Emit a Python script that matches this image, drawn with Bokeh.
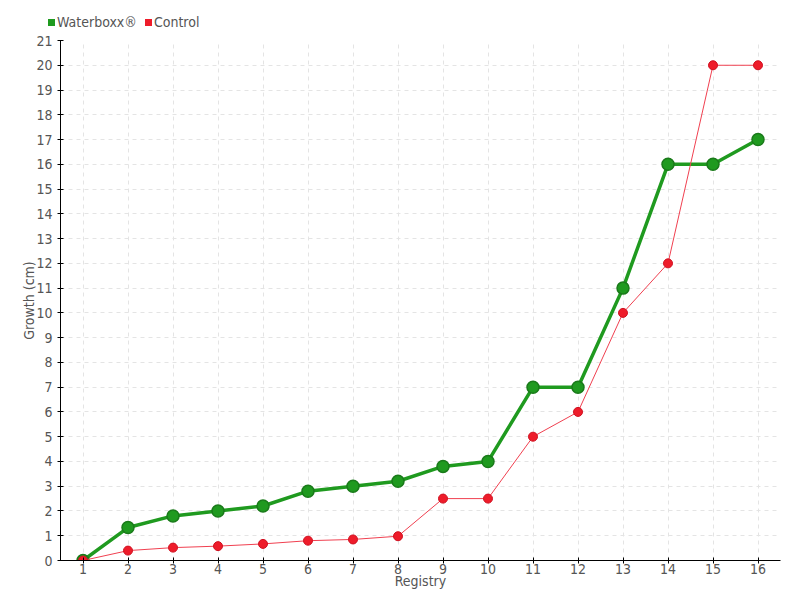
from bokeh.plotting import figure
from bokeh.layouts import column
from bokeh.models import Range1d, FixedTicker, ColumnDataSource, Div
from bokeh.embed import file_html
from bokeh.resources import INLINE

registry = list(range(1, 17))
waterboxx = [0, 1.33, 1.8, 2.0, 2.2, 2.8, 3.0, 3.2, 3.8, 4.0, 7, 7, 11, 16, 16, 17]
control = [0, 0.4, 0.52, 0.58, 0.67, 0.8, 0.85, 0.98, 2.5, 2.5, 5, 6, 10, 12, 20, 20]
y_ticks = list(range(0, 22))
series_names = ["Waterboxx®", "Control"]

FONT = "'DejaVu Sans Condensed', 'Liberation Sans Narrow', Roboto, sans-serif"
TXT = "#555555"
GREEN = "#1f9a1f"
GREEN_DARK = "#1a7a1a"
RED = "#ee1c2a"

p = figure(width=800, height=568, output_backend="svg", toolbar_location=None,
           x_range=Range1d(0.5, 16.5), y_range=Range1d(0, 21),
           min_border_left=60, min_border_right=20, min_border_top=8, min_border_bottom=40)
p.outline_line_color = None

src_w = ColumnDataSource(dict(x=registry, y=waterboxx))
src_c = ColumnDataSource(dict(x=registry, y=control))

p.line("x", "y", source=src_w, line_color=GREEN, line_width=3.5)
p.scatter("x", "y", source=src_w, size=12, fill_color=GREEN, line_color=GREEN_DARK, line_width=1.5)
p.line("x", "y", source=src_c, line_color="#f04050", line_width=1)
p.scatter("x", "y", source=src_c, size=9, fill_color=RED, line_color="#d01020", line_width=1)

for ax in (p.xaxis[0], p.yaxis[0]):
    ax.major_label_text_font = FONT
    ax.major_label_text_font_size = "14px"
    ax.major_label_text_color = TXT
    ax.axis_label_text_font = FONT
    ax.axis_label_text_font_size = "14px"
    ax.axis_label_text_font_style = "normal"
    ax.axis_label_text_color = TXT
    ax.axis_line_color = "black"
    ax.major_tick_line_color = "black"
    ax.major_tick_in = 3
    ax.major_tick_out = 3
    ax.minor_tick_line_color = None

p.xaxis.ticker = FixedTicker(ticks=registry)
p.yaxis.ticker = FixedTicker(ticks=y_ticks)
p.xaxis.axis_label = "Registry"
p.yaxis.axis_label = "Growth (cm)"
p.xaxis.axis_label_standoff = -4
p.yaxis.axis_label_standoff = -4
p.xaxis.major_label_standoff = 0
p.yaxis.major_label_standoff = 5

for g in (p.xgrid[0], p.ygrid[0]):
    g.grid_line_color = "#e4e4e4"
    g.grid_line_dash = "4 4"
    g.grid_line_width = 1

# legend strip above the chart (HTML text)
def swatch(color):
    return ('<span style="display:inline-block;width:7px;height:7px;background:%s;'
            'margin-right:2px;vertical-align:middle;position:relative;top:-1px"></span>' % color)

legend_html = (
    '<div style="position:absolute;left:48px;top:13px;white-space:nowrap;'
    'font-family:%s;font-size:14px;line-height:18px;color:%s">' % (FONT.replace("'", ""), TXT)
    + swatch(GREEN) + series_names[0]
    + '<span style="display:inline-block;width:8px"></span>'
    + swatch(RED) + series_names[1] + '</div>'
)
legend_div = Div(text=legend_html, width=800, height=32, margin=0,
                 styles={"position": "relative", "overflow": "visible"})

open("out.html", "w").write(file_html(column(legend_div, p, spacing=0), INLINE))
